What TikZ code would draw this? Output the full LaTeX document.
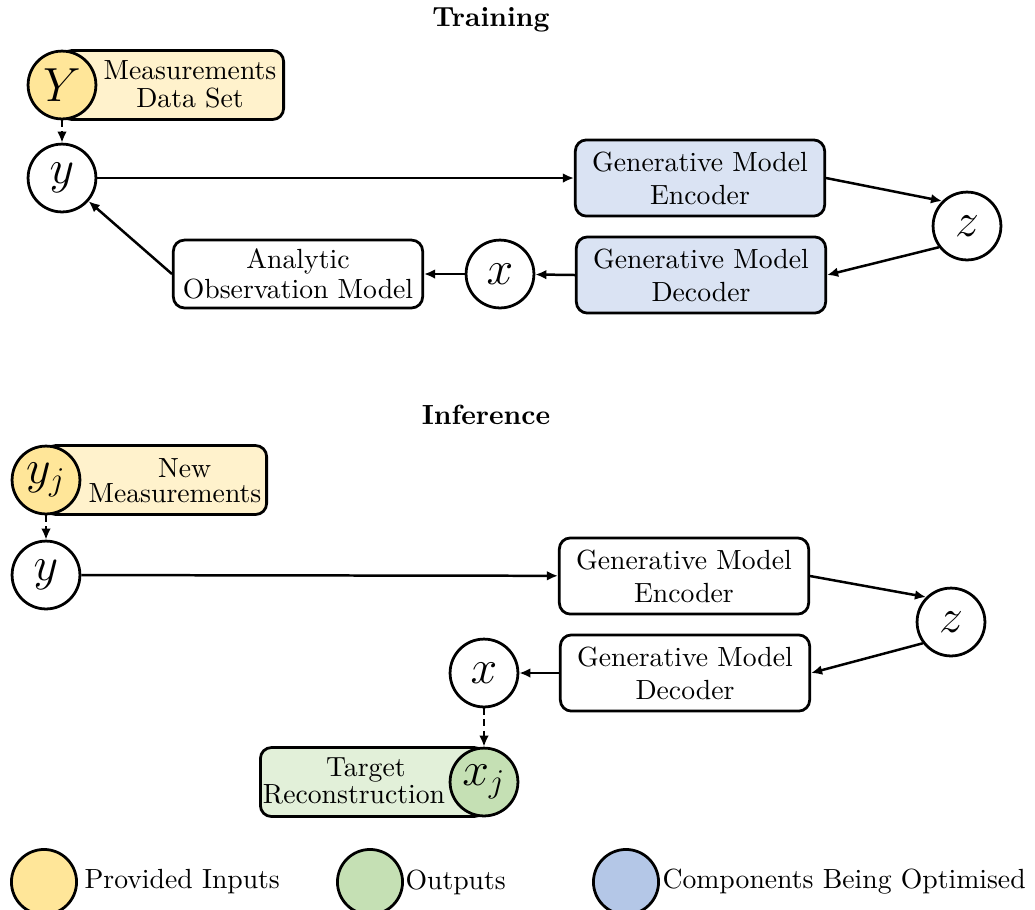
\documentclass[tikz,border=0pt]{standalone}
\usetikzlibrary{arrows.meta}
\definecolor{inyellow}{HTML}{FFE699}
\definecolor{inyellowlt}{HTML}{FFF2CC}
\definecolor{outgreen}{HTML}{C5E0B4}
\definecolor{outgreenlt}{HTML}{E2F0D9}
\definecolor{optblue}{HTML}{B4C7E7}
\definecolor{optbluelt}{HTML}{DAE3F3}

\begin{document}
\begin{tikzpicture}[x={(0.361pt,0)}, y={(0,-0.361pt)},
  var/.style={circle, draw, line width=1pt, minimum size=24.5pt, inner sep=0pt, font=\LARGE},
  block/.style={rectangle, rounded corners=4pt, draw, line width=1pt, align=center,
                minimum width=90pt, minimum height=27.5pt, inner sep=2pt},
  tag/.style={rectangle, rounded corners=4pt, draw, line width=1pt, minimum height=24.9pt, inner sep=0pt},
  flow/.style={-{Latex[length=4pt,width=3.5pt]}, line width=0.9pt},
  feed/.style={flow, dash pattern=on 2.5pt off 1.5pt},
  heading/.style={font=\bfseries},
  key/.style={anchor=west, inner sep=0pt}
]
\useasboundingbox (0,0) rectangle (1035,909);

% ---------------- Training ----------------
\node[heading] (ttitle) at (491,20) {Training};
\node[tag, fill=inyellowlt, anchor=east, minimum width=80.5pt] (Ybox) at (285,85) {};
\node[align=center] (Ytext) at (190,84) {Measurements\\[-2pt]Data Set};
\node[var, fill=inyellow] (Y) at (62,85) {$Y$};
\node[var] (y) at (62,178) {$y$};
\node[block, fill=optbluelt] (enc) at (700,178) {Generative Model\\Encoder};
\node[var] (z) at (967,226) {$z$};
\node[block, fill=optbluelt] (dec) at (701,275) {Generative Model\\Decoder};
\node[var] (x) at (500,274) {$x$};
\node[block, minimum height=24.5pt] (obs) at (298,274) {Analytic\\[-1pt]Observation Model};

\draw[feed] (Y) -- (y);
\draw[flow] (y) -- (enc);
\draw[flow] (enc.east) -- (z.135);
\draw[flow] (z.217) -- (dec.east);
\draw[flow] (dec.west) -- (x);
\draw[flow] (x) -- (obs);
\draw[flow] (obs.west) -- (y);

% ---------------- Inference ----------------
\node[heading] (ititle) at (486,415) {Inference};
\node[tag, fill=inyellowlt, anchor=east, minimum width=80.1pt] (yjbox) at (268,480) {};
\node[align=center] (yjtext) at (175,481) {\hspace*{7pt}New\\[-3pt]Measurements};
\node[var, fill=inyellow] (yj) at (46,480) {$y_j$};
\node[var] (y2) at (46,575) {$y$};
\node[block] (enc2) at (684,576) {Generative Model\\Encoder};
\node[var] (z2) at (951,622) {$z$};
\node[block] (dec2) at (685,673) {Generative Model\\Decoder};
\node[var] (x2) at (484,673) {$x$};
\node[tag, fill=outgreenlt, anchor=west, minimum width=81.2pt] (xjbox) at (259,782) {};
\node[align=center] (xjtext) at (354,781) {\hspace*{8.6pt}Target\\[-2pt]Reconstruction};
\node[var, fill=outgreen] (xj) at (484,782) {$x_j$};

\draw[feed] (yj) -- (y2);
\draw[flow] (y2) -- (enc2);
\draw[flow] (enc2.east) -- (z2.135);
\draw[flow] (z2.217) -- (dec2.east);
\draw[flow] (dec2.west) -- (x2);
\draw[feed] (x2) -- (xj);

% ---------------- Legend ----------------
\node[var, fill=inyellow, minimum size=23.5pt] (k1) at (44,882) {};
\node[key] (k1t) at (84,882) {Provided Inputs};
\node[var, fill=outgreen, minimum size=23.5pt] (k2) at (370,882) {};
\node[key] (k2t) at (405,882) {Outputs};
\node[var, fill=optblue, minimum size=23.5pt] (k3) at (626,882) {};
\node[key] (k3t) at (662,882) {Components Being Optimised};
\end{tikzpicture}
\end{document}
